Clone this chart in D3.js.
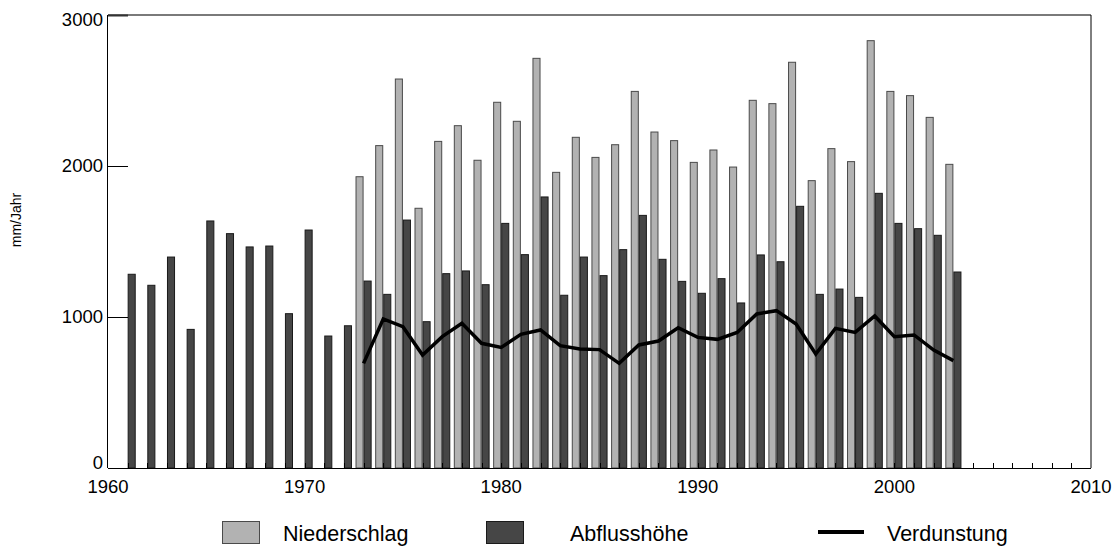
<!DOCTYPE html>
<html><head><meta charset="utf-8">
<script src="https://cdn.jsdelivr.net/npm/d3@7/dist/d3.min.js"></script>
<style>
html,body{margin:0;padding:0;background:#fff;}
text{font-family:"Liberation Sans",Arial,sans-serif;fill:#000;}
</style></head>
<body>
<svg id="chart" width="1114" height="547"></svg>
<script>
// Data
const abflussYears = [1961,1962,1963,1964,1965,1966,1967,1968,1969,1970,1971,1972,1973,1974,1975,1976,1977,1978,1979,1980,1981,1982,1983,1984,1985,1986,1987,1988,1989,1990,1991,1992,1993,1994,1995,1996,1997,1998,1999,2000,2001,2002,2003];
const abflussValues = [1283,1210,1397,918,1636,1552,1464,1470,1022,1576,874,942,1238,1150,1642,969,1287,1305,1214,1620,1413,1795,1144,1397,1274,1446,1673,1382,1236,1157,1254,1093,1411,1366,1733,1150,1185,1130,1819,1620,1585,1541,1298];
const niederYears = [1973,1974,1975,1976,1977,1978,1979,1980,1981,1982,1983,1984,1985,1986,1987,1988,1989,1990,1991,1992,1993,1994,1995,1996,1997,1998,1999,2000,2001,2002,2003];
const niederValues = [1929,2135,2576,1720,2163,2267,2038,2422,2296,2713,1958,2190,2057,2141,2494,2225,2168,2024,2106,1993,2435,2413,2687,1903,2115,2029,2830,2494,2466,2322,2011];
const verdunstungValues = [693,987,936,748,870,958,826,799,885,914,810,788,784,693,815,841,929,865,852,898,1020,1042,954,755,925,898,1007,870,881,781,711];
const xTickLabels = [1960,1970,1980,1990,2000,2010];
const yTickLabels = [0,1000,2000,3000];
const legendLabels = ["Niederschlag","Abflusshöhe","Verdunstung"];

const svg = d3.select("#chart");
const x = d3.scaleLinear().domain([1960,2010]).range([108,1091]);
const y = d3.scaleLinear().domain([0,3000]).range([468,15]);
const bw = 0.41; // bar width in years

const lightFill = "#b2b2b2", lightStroke = "#4a4a4a";
const darkFill = "#464646", darkStroke = "#1a1a1a";

// Niederschlag bars (left of year)
svg.append("g").selectAll("rect").data(niederYears.map((yr,i)=>({yr,v:niederValues[i]})))
  .join("rect")
  .attr("x", d=>x(d.yr-bw)+0.5)
  .attr("y", d=>y(d.v))
  .attr("width", d=>x(d.yr)-x(d.yr-bw)-1)
  .attr("height", d=>y(0)-y(d.v))
  .attr("fill", lightFill).attr("stroke", lightStroke).attr("stroke-width",1);

// Abfluss bars (right of year)
svg.append("g").selectAll("rect").data(abflussYears.map((yr,i)=>({yr,v:abflussValues[i]})))
  .join("rect")
  .attr("x", d=>x(d.yr)+0.5)
  .attr("y", d=>y(d.v))
  .attr("width", d=>x(d.yr+bw)-x(d.yr)-1)
  .attr("height", d=>y(0)-y(d.v))
  .attr("fill", darkFill).attr("stroke", darkStroke).attr("stroke-width",1);

// Verdunstung line
const line = d3.line().x((d,i)=>x(niederYears[i])).y(d=>y(d));
svg.append("path").datum(verdunstungValues)
  .attr("d", line).attr("fill","none").attr("stroke","#000")
  .attr("stroke-width",3.5).attr("stroke-linejoin","miter");

// Frame
svg.append("line").attr("x1",x(1960)).attr("x2",x(2010)).attr("y1",y(3000)).attr("y2",y(3000))
  .attr("stroke","#7a7a7a").attr("stroke-width",2);
svg.append("line").attr("x1",x(1960)).attr("x2",x(2010)).attr("y1",y(0)+0.5).attr("y2",y(0)+0.5)
  .attr("stroke","#000").attr("stroke-width",1);
svg.append("line").attr("x1",x(1960)-0.5).attr("x2",x(1960)-0.5).attr("y1",y(3000)).attr("y2",y(0))
  .attr("stroke","#000").attr("stroke-width",1);
svg.append("line").attr("x1",x(2010)).attr("x2",x(2010)).attr("y1",y(3000)).attr("y2",y(0))
  .attr("stroke","#000").attr("stroke-width",1);

// minor x ticks every year (inside)
const yrs = d3.range(1961,2010);
svg.append("g").selectAll("line").data(yrs).join("line")
  .attr("x1",d=>Math.round(x(d))+0.5).attr("x2",d=>Math.round(x(d))+0.5)
  .attr("y1",y(0)).attr("y2",y(0)-5)
  .attr("stroke","#000").attr("stroke-width",1);

// y ticks
svg.append("g").selectAll("line").data([1000,2000,3000]).join("line")
  .attr("x1",x(1960)).attr("x2",x(1960)+20)
  .attr("y1",d=>Math.round(y(d))+0.5).attr("y2",d=>Math.round(y(d))+0.5)
  .attr("stroke",d=>d===3000?"#333":"#000").attr("stroke-width",d=>d===3000?2:1);

// y tick labels
svg.append("g").selectAll("text").data(yTickLabels).join("text")
  .attr("x",103).attr("y",d=>y(d) + (d===0?-5:(d===3000?5:0)))
  .attr("dy","0.35em").attr("text-anchor","end")
  .style("font-size","18.5px").text(d=>d);

// x tick labels
svg.append("g").selectAll("text").data(xTickLabels).join("text")
  .attr("x",d=>x(d)).attr("y",493)
  .attr("text-anchor","middle")
  .style("font-size","18.5px").text(d=>d);

// y axis title
svg.append("text").attr("transform","translate(21,220) rotate(-90)")
  .attr("text-anchor","middle").style("font-size","14px").text("mm/Jahr");

// Legend
const lg = svg.append("g");
lg.append("rect").attr("x",222.5).attr("y",521.5).attr("width",37).attr("height",22)
  .attr("fill",lightFill).attr("stroke",lightStroke);
lg.append("text").attr("x",283).attr("y",541).style("font-size","21.5px").text(legendLabels[0]);
lg.append("rect").attr("x",486.5).attr("y",521.5).attr("width",37).attr("height",22)
  .attr("fill",darkFill).attr("stroke",darkStroke);
lg.append("text").attr("x",570).attr("y",541).style("font-size","21.5px").text(legendLabels[1]);
lg.append("line").attr("x1",818).attr("x2",864).attr("y1",532).attr("y2",532)
  .attr("stroke","#000").attr("stroke-width",4);
lg.append("text").attr("x",887).attr("y",541).style("font-size","21.5px").text(legendLabels[2]);
</script>
</body></html>
